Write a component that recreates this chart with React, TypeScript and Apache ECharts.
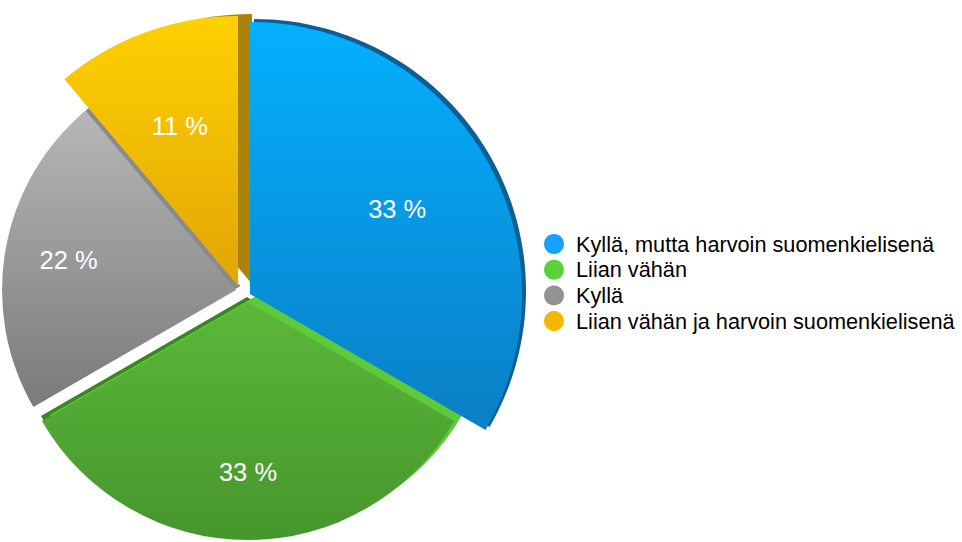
import React, { useEffect, useRef } from "react";
import * as echarts from "echarts";

// ---- data ----
const categories = [
  "Kyllä, mutta harvoin suomenkielisenä",
  "Liian vähän",
  "Kyllä",
  "Liian vähän ja harvoin suomenkielisenä",
];
const values = [3, 3, 2, 1];

// ---- styles ----
const legendColors = ["#17a1fb", "#5ad13b", "#939393", "#f5b800"];
const faceTop = ["#04b0ff", "#5bb839", "#b7b7b7", "#fed100"];
const faceBottom = ["#0a7fc5", "#46962c", "#7a7a7a", "#e2a507"];

// face geometry (center x, center y, radius) — perspective approximation
const faceGeom: [number, number, number][] = [
  [250, 294, 272],
  [248, 302, 238],
  [236, 290, 234],
  [238, 286, 270],
];

// extruded side faces: [slice index, cx, cy, r, color]
const sideGeom: [number, number, number, number, string][] = [
  [0, 254, 291, 272, "#0c5e94"],
  [1, 247, 297, 238, "#3d8524"],
  [1, 256, 296, 238, "#5cca39"],
  [2, 240.5, 286, 234, "#878b8b"],
  [3, 252, 284, 270, "#a9830a"],
];

const LABEL_DIST = 170;
const FONT = 'Helvetica, Arial, "Liberation Sans", sans-serif';

function sliceSeries(
  idx: number,
  cx: number,
  cy: number,
  r: number,
  color: any,
  withLabel: boolean
) {
  return {
    type: "pie",
    center: [cx, cy],
    radius: r,
    startAngle: 90,
    clockwise: true,
    silent: true,
    animation: false,
    avoidLabelOverlap: false,
    itemStyle: { borderWidth: 0 },
    emphasis: { disabled: true },
    labelLine: { show: false },
    label: {
      show: withLabel,
      position: "inside",
      color: "#ffffff",
      fontSize: 25.5,
      fontFamily: FONT,
      formatter: (p: any) => Math.round(p.percent) + " %",
    },
    labelLayout: withLabel
      ? (p: any) => {
          const rect = p.labelRect;
          const lx = rect.x + rect.width / 2;
          const ly = rect.y + rect.height / 2;
          const vx = lx - cx;
          const vy = ly - cy;
          const len = Math.hypot(vx, vy) || 1;
          const k = LABEL_DIST / len - 1;
          return { dx: vx * k, dy: vy * k };
        }
      : undefined,
    data: categories.map((name, i) => ({
      name,
      value: values[i],
      itemStyle: { color: i === idx ? color : "rgba(0,0,0,0)", borderWidth: 0 },
      label: { show: withLabel && i === idx },
    })),
  };
}

export default function App() {
  const ref = useRef<HTMLDivElement>(null);

  useEffect(() => {
    document.body.style.margin = "0";
    document.body.style.background = "#ffffff";
    const chart = echarts.init(ref.current!, undefined, { renderer: "svg" });

    const series: any[] = [];
    sideGeom.forEach(([idx, cx, cy, r, color]) => {
      series.push(sliceSeries(idx, cx, cy, r, color, false));
    });
    faceGeom.forEach(([cx, cy, r], idx) => {
      const grad = new echarts.graphic.LinearGradient(0, 0, 0, 1, [
        { offset: 0, color: faceTop[idx] },
        { offset: 1, color: faceBottom[idx] },
      ]);
      series.push(sliceSeries(idx, cx, cy, r, grad, true));
    });

    chart.setOption({
      animation: false,
      backgroundColor: "#ffffff",
      legend: {
        show: true,
        orient: "vertical",
        left: 544,
        top: 233,
        padding: 0,
        itemWidth: 34,
        itemHeight: 20,
        itemGap: 3.7,
        icon: "circle",
        selectedMode: false,
        textStyle: {
          color: "#000000",
          fontSize: 21.7,
          fontFamily: FONT,
          lineHeight: 20,
        },
        data: categories.map((name, i) => ({
          name,
          itemStyle: { color: legendColors[i] },
        })),
      },
      series,
    });

    return () => chart.dispose();
  }, []);

  return (
    <div
      ref={ref}
      style={{ position: "fixed", left: 0, top: 0, width: 962, height: 542 }}
    />
  );
}
